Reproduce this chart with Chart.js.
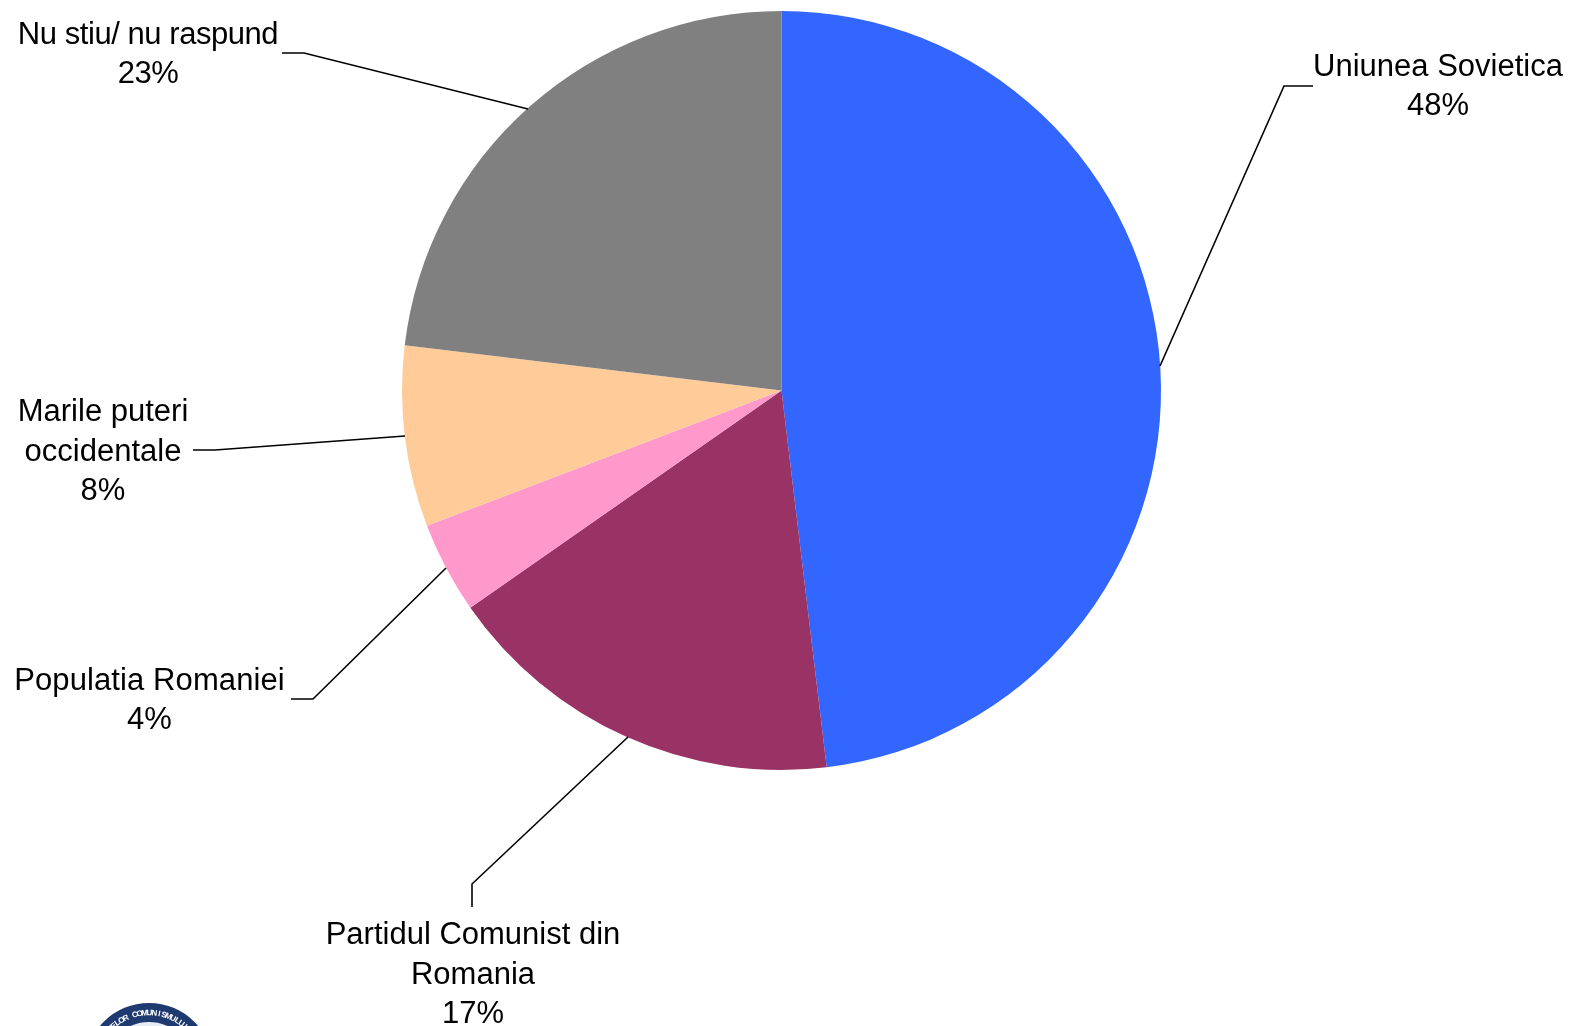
<!DOCTYPE html>
<html>
<head>
<meta charset="utf-8">
<style>
  html, body { margin: 0; padding: 0; background: #fff; }
  #wrap { position: absolute; left: 0; top: 0; width: 1569px; height: 1026px; }
</style>
<script src="https://cdn.jsdelivr.net/npm/chart.js@4/dist/chart.umd.min.js"></script>
</head>
<body>
<div id="wrap"><canvas id="chart" width="1569" height="1026"></canvas></div>
<script>
const categories = ["Uniunea Sovietica", "Partidul Comunist din Romania", "Populatia Romaniei", "Marile puteri occidentale", "Nu stiu/ nu raspund"];
const values = [48.1, 17.2, 3.9, 7.7, 23.1];
const colors = ["#3366ff", "#993366", "#ff99cc", "#ffcc99", "#808080"];
const labelLines = [["Uniunea Sovietica", "48%"], ["Partidul Comunist din", "Romania", "17%"], ["Populatia Romaniei", "4%"], ["Marile puteri", "occidentale", "8%"], ["Nu stiu/ nu raspund", "23%"]];
const sealText = "CRIMELOR COMUNISMULUI";

// label centre and leader line, relative to the canvas
const labelBoxes = [
  { x: 1438, y: 87, spacing: 0, line: [[1313, 86], [1284, 86], [1160, 366]] },
  { x: 473, y: 975, spacing: 0, line: [[472, 907], [472, 884], [628, 737]] },
  { x: 149.5, y: 701, spacing: 0.1, line: [[291, 699], [313, 699], [446, 568]] },
  { x: 103, y: 452, spacing: 0, line: [[193, 450], [215, 450], [405, 436]] },
  { x: 148, y: 55, spacing: -0.45, line: [[282, 53], [304, 53], [528, 109]] }
];

// the seal cut off by the bottom edge of the picture
function drawSeal(ctx) {
  const cx = 149, cy = 1067;
  ctx.save();
  ctx.fillStyle = "#1f3a70";
  ctx.beginPath();
  ctx.arc(cx, cy, 64, 0, Math.PI * 2);
  ctx.fill();
  ctx.fillStyle = "#e8ecf4";
  ctx.beginPath();
  ctx.arc(cx, cy, 45, 0, Math.PI * 2);
  ctx.fill();
  ctx.fillStyle = "#fff";
  ctx.font = "bold 8px 'Liberation Sans'";
  ctx.textAlign = "center";
  ctx.textBaseline = "middle";
  const step = 0.09;
  const mid = 11.9;
  for (let i = 0; i < sealText.length; i++) {
    const a = (i - mid) * step;
    ctx.save();
    ctx.translate(cx + Math.sin(a) * 54, cy - Math.cos(a) * 54);
    ctx.rotate(a);
    ctx.fillText(sealText[i], 0, 0);
    ctx.restore();
  }
  ctx.restore();
}

const calloutPlugin = {
  id: "callouts",
  afterDraw(chart) {
    const ctx = chart.ctx;
    drawSeal(ctx);
    ctx.save();
    ctx.strokeStyle = "#000";
    ctx.lineWidth = 1.6;
    ctx.fillStyle = "#000";
    ctx.font = "31px 'Liberation Sans'";
    ctx.textAlign = "center";
    ctx.textBaseline = "middle";
    labelBoxes.forEach((box, i) => {
      ctx.beginPath();
      box.line.forEach((p, j) => j ? ctx.lineTo(p[0], p[1]) : ctx.moveTo(p[0], p[1]));
      ctx.stroke();
      const lines = labelLines[i];
      ctx.letterSpacing = box.spacing + "px";
      lines.forEach((text, j) => {
        ctx.fillText(text, box.x, box.y + (j - (lines.length - 1) / 2) * 39.5);
      });
    });
    ctx.restore();
  }
};

new Chart(document.getElementById("chart"), {
  type: "pie",
  data: {
    labels: categories,
    datasets: [{ data: values, backgroundColor: colors, borderWidth: 0 }]
  },
  options: {
    responsive: false,
    animation: false,
    layout: { padding: { left: 402, right: 408, top: 11, bottom: 256 } },
    plugins: { legend: { display: false }, tooltip: { enabled: false } }
  },
  plugins: [calloutPlugin]
});
</script>
</body>
</html>
